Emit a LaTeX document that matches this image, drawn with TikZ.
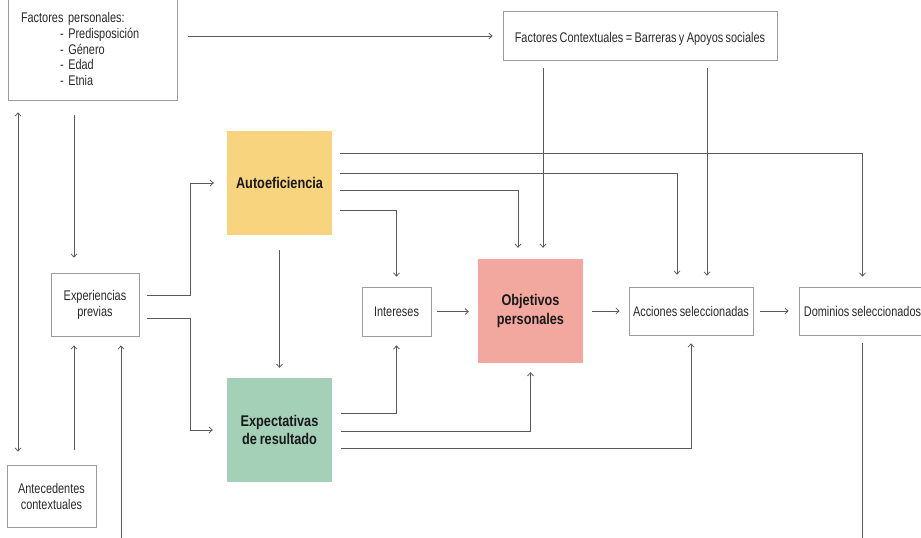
\documentclass[tikz,border=0pt]{standalone}
\usepackage{fontspec}
\setmainfont{Liberation Sans}[FakeStretch=0.78, WordSpace=0.8]
\newfontfamily\keyfont{Liberation Sans}[FakeStretch=0.82, WordSpace=0.82]
\usetikzlibrary{arrows.meta,calc}

\definecolor{linegray}{HTML}{5A5A5A}
\definecolor{boxgray}{HTML}{9C9C9C}
\definecolor{txtgray}{HTML}{2A2A2A}
\definecolor{autofill}{HTML}{F9D47F}
\definecolor{objfill}{HTML}{F3A89F}
\definecolor{expfill}{HTML}{A3D0B7}

\tikzset{
  plainbox/.style={draw=boxgray, line width=0.8pt, fill=white, text=txtgray,
    font={\fontsize{14}{16}\selectfont}, align=center, inner sep=0pt},
  keybox/.style={text=black!90, font={\keyfont\bfseries\fontsize{15.5}{18.5}\selectfont},
    align=center, minimum width=105pt, minimum height=104pt, inner sep=0pt},
  link/.style={draw=linegray, line width=0.8pt,
    -{Straight Barb[length=3.2pt,width=6pt,line width=0.8pt]},
    shorten <=8pt, shorten >=10pt},
  bare/.style={draw=linegray, line width=0.8pt, shorten <=8pt}
}

\begin{document}
\begin{tikzpicture}[x=1pt,y=-1pt]
\path[use as bounding box, clip] (0,0) rectangle (921,538);
\fill[white] (0,0) rectangle (921,538);

% boxes
\node[plainbox, minimum width=169pt, minimum height=102pt, text width=143pt,
  inner xsep=13pt, align=left, font={\fontsize{14}{15.7}\selectfont}]
  (fp) at (92.5,49) {Factores personales:\\
  \hspace*{39pt}- Predisposición\\
  \hspace*{39pt}- Género\\
  \hspace*{39pt}- Edad\\
  \hspace*{39pt}- Etnia};
\node[plainbox, minimum width=274pt, minimum height=49pt, text height=15pt]
  (fc) at (640,36) {Factores Contextuales = Barreras y Apoyos sociales};
\node[keybox, fill=autofill] (aut) at (279.5,183) {Autoeficiencia};
\node[keybox, fill=expfill] (exp) at (279.5,430) {Expectativas\\de resultado};
\node[keybox, fill=objfill] (obj) at (530.5,311) {Objetivos\\personales};
\node[plainbox, minimum width=69pt, minimum height=49pt] (int) at (396.5,311.5) {Intereses};
\node[plainbox, minimum width=124pt, minimum height=48pt] (acc) at (691,311) {Acciones seleccionadas};
\node[plainbox, minimum width=127pt, minimum height=48pt] (dom) at (862.5,311) {Dominios seleccionados};
\node[plainbox, minimum width=88pt, minimum height=63pt] (epr) at (95,304.5) {Experiencias\\previas};
\node[plainbox, minimum width=89pt, minimum height=62pt] (ant) at (51.5,496) {Antecedentes\\contextuales};

\coordinate (bl) at (0,545);

% personal and contextual factors
\draw[link, shorten <=11pt] (fp.east |- fc.west) -- (fc.west);
\draw[link, shorten <=7.5pt, shorten >=11pt] ([xshift=12.5pt]obj.north |- fc.south) -- ([xshift=12.5pt]obj.north);
\draw[link, shorten <=7.5pt, shorten >=11pt] ([xshift=16pt]acc.north |- fc.south) -- ([xshift=16pt]acc.north);
\draw[link, shorten <=15pt, shorten >=15pt] ([xshift=-21pt]epr.north |- fp.south) -- ([xshift=-21pt]epr.north);
\draw[link, {Straight Barb[length=3.2pt,width=6pt,line width=0.8pt]}-{Straight Barb[length=3.2pt,width=6pt,line width=0.8pt]},
  shorten <=12pt, shorten >=13pt] ([xshift=-33.5pt]ant.north |- fp.south) -- ([xshift=-33.5pt]ant.north);

% prior experience
\draw[link, shorten <=15pt, shorten >=9pt] ([xshift=-21pt]epr.south |- ant.north) -- ([xshift=-21pt]epr.south);
\draw[link, shorten <=0pt, shorten >=9pt] ([xshift=26pt]epr.south |- bl) -- ([xshift=26pt]epr.south);
\draw[link, shorten >=13pt] ([yshift=9.5pt]epr.east) -- ++(51,0) |- (aut.west);
\draw[link, shorten >=14pt] ([yshift=-13.5pt]epr.east) -- ++(51,0) |- (exp.west);

% self-efficacy
\draw[link, shorten <=15pt] (aut.south) -- (exp.north);
\draw[link] ([yshift=30pt]aut.east) -| (dom.north);
\draw[link, shorten >=12pt] ([yshift=10pt]aut.east) -| ([xshift=-14pt]acc.north);
\draw[link, shorten >=11pt] ([yshift=-7pt]aut.east) -| ([xshift=-12.5pt]obj.north);
\draw[link] ([yshift=-27pt]aut.east) -| (int.north);

% outcome expectations
\draw[link, shorten <=9pt, shorten >=9pt] ([yshift=17pt]exp.east) -| (int.south);
\draw[link, shorten <=9pt, shorten >=9pt] ([yshift=-1pt]exp.east) -| (obj.south);
\draw[link, shorten <=9pt, shorten >=8pt] ([yshift=-18pt]exp.east) -| (acc.south);

% main chain
\draw[link, shorten <=6pt, shorten >=9pt] (int.east) -- (obj.west |- int.east);
\draw[link, shorten <=9pt, shorten >=9pt] (obj.east) -- (acc.west);
\draw[link, shorten <=7pt, shorten >=10pt] (acc.east) -- (dom.west);
\draw[bare] (dom.south) -- (dom.south |- bl);
\end{tikzpicture}
\end{document}
